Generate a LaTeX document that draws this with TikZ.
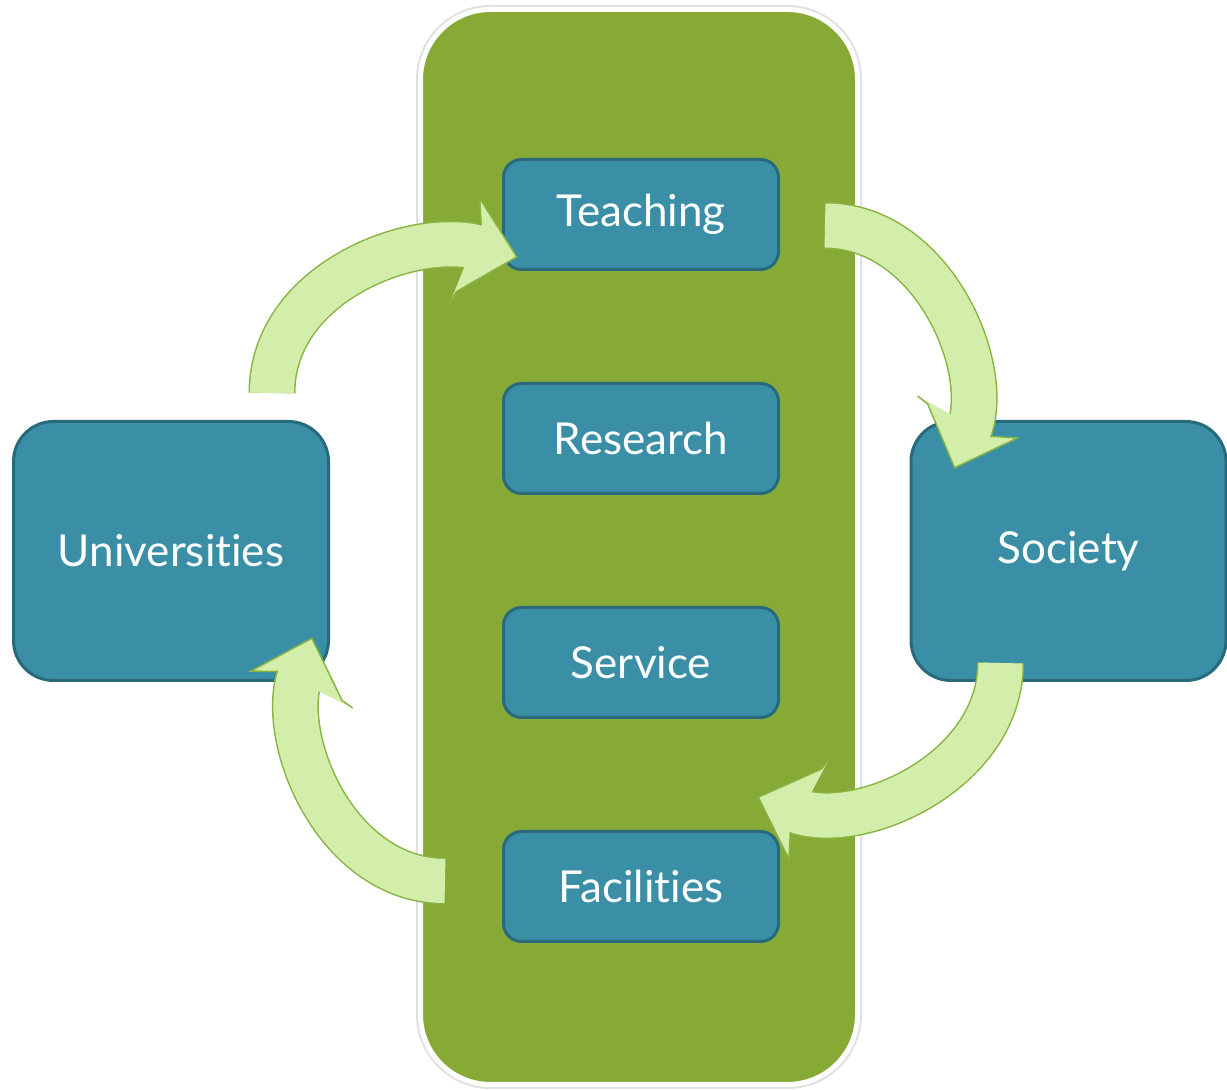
\documentclass[tikz,border=0pt]{standalone}
\usepackage{fontspec}
\setmainfont{Lato}[Ligatures=NoCommon]
\usetikzlibrary{shapes, arrows, decorations.markings, positioning, shadows}
\usepackage{xcolor}
\definecolor{panelgreen}{RGB}{134,170,53}
\definecolor{boxteal}{RGB}{58,143,166}
\definecolor{boxedge}{RGB}{40,106,124}
\definecolor{arrowfill}{RGB}{211,238,170}
\definecolor{arrowedge}{RGB}{136,180,66}

\begin{document}
\begin{tikzpicture}[x=1pt, y=1pt,
        decoration={
            markings,
            mark= at position 0.999 with {\filldraw[fill=arrowfill, draw=arrowedge, line width=1.5pt] (-42pt,22pt) -- (-50pt,48pt) -- (0pt,0pt) -- (-50pt,-48pt) -- (-42pt,-22pt);}
        }
    ]
    \tikzstyle{panel} = [rectangle, rounded corners=70pt, minimum width=437pt, minimum height=1075pt, fill=panelgreen, draw=white, line width=5pt, preaction={draw=black!12, line width=9pt}]
    \tikzstyle{task} = [rectangle, rounded corners=18pt, minimum width=275pt, minimum height=110pt, fill=boxteal, draw=boxedge, line width=3pt, text=white, font=\fontsize{44}{52}\selectfont]
    \tikzstyle{party} = [task, rounded corners=40pt, minimum width=315pt, minimum height=259pt]
    \tikzstyle{flow} = [draw=arrowedge, line width=47pt, shorten >=40pt, postaction={draw=arrowfill, line width=44pt, shorten >=40pt}, postaction={decorate}]

    \useasboundingbox (0,0) rectangle (1227,1090);

    \node (core)[panel] at (639,543) {};
    \node (teaching)[task] at (641,875.5) {Teaching};
    \node (research)[task, below=111pt of teaching] {Research};
    \node (service)[task, below=111pt of research] {Service};
    \node (facilities)[task, below=111pt of service] {Facilities};
    \node (universities)[party] at (171,539) {Universities};
    \node (society)[party] at (1068.5,539) {Society};

    % block arrows round the cycle
    \draw[flow] ([xshift=-58pt, yshift=27pt]universities.north east) to[out=90, in=166] ([xshift=15pt, yshift=14pt]teaching.south west);
    \draw[flow] ([xshift=45pt, yshift=-11pt]teaching.east) to[out=0, in=69] ([xshift=45pt, yshift=-48pt]society.north west);
    \draw[flow] ([xshift=-68pt, yshift=19pt]society.south) to[out=-90, in=-20] ([xshift=-22pt, yshift=33pt]facilities.north east);
    \draw[flow] ([xshift=-57pt, yshift=5.5pt]facilities.west) to[out=180, in=-108] ([xshift=-18pt, yshift=44pt]universities.south east);
\end{tikzpicture}
\end{document}
